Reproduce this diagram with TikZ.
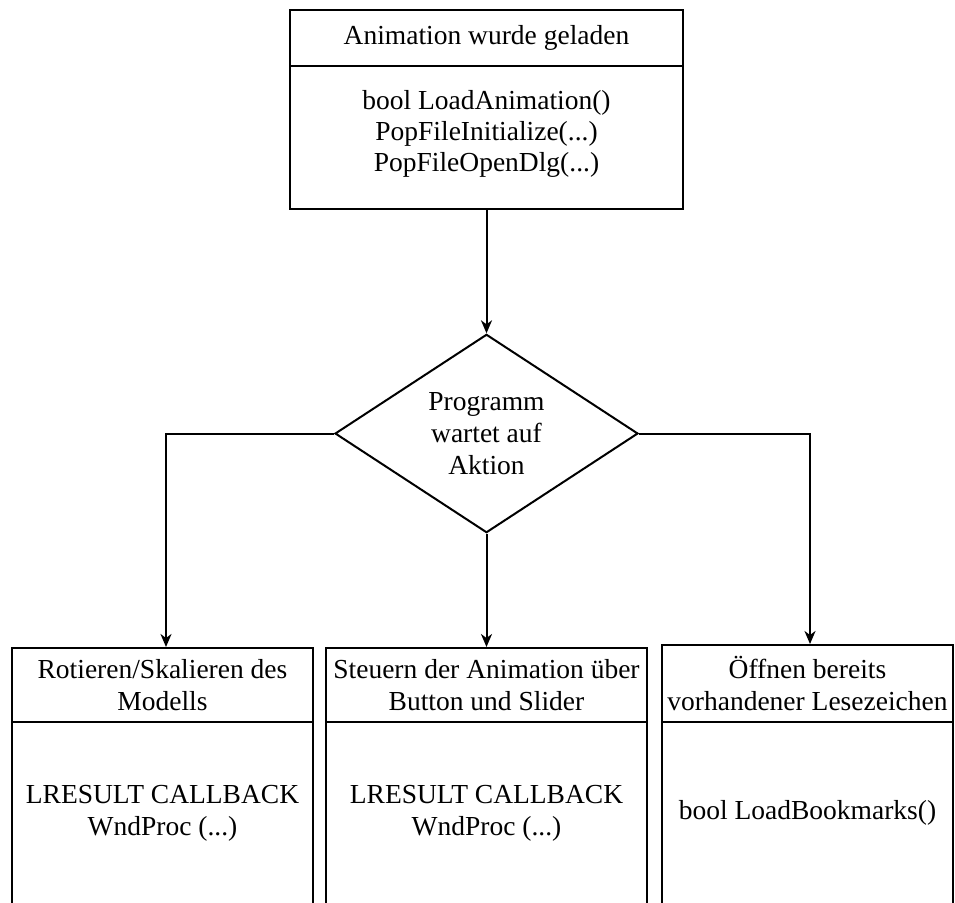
\documentclass[tikz,border=0pt]{standalone}
\usepackage{fontspec}
\setmainfont{Liberation Serif}
\usetikzlibrary{shapes.geometric,arrows.meta}
\begin{document}
\begin{tikzpicture}[x=1pt,y=1pt,
  line width=2pt,
  txt/.style={font=\fontsize{27.5}{32}\selectfont, align=center},
  box/.style={draw, rectangle, txt, inner sep=0pt},
  decision/.style={draw, diamond, txt, inner sep=0pt},
  flow/.style={-{Stealth[length=13pt,width=11pt,inset=4pt]}}]
  \useasboundingbox (0,0) rectangle (955,-902);

  % start block: header and function list
  \node[box, minimum width=393, minimum height=56] (th) at (486.5,-38) {Animation wurde geladen};
  \node[box, minimum width=393, minimum height=143] (tb) at (486.5,-137.5)
    {bool LoadAnimation()\\[-1pt]PopFileInitialize(...)\\[-1pt]PopFileOpenDlg(...)\\[-18pt]};

  % waiting state
  \node[decision, minimum width=303, minimum height=197] (d) at (486.5,-433.5)
    {Programm\\wartet auf\\Aktion};

  % left branch
  \node[box, minimum width=301, minimum height=74] (lh) at (162.5,-685)
    {Rotieren/Skalieren des\\Modells};
  \node[box, minimum width=301, minimum height=182] (lb) at (162.5,-813)
    {LRESULT CALLBACK\\WndProc (...)};

  % middle branch
  \node[box, minimum width=321, minimum height=74] (mh) at (486.5,-685)
    {Steuern der Animation über\\Button und Slider};
  \node[box, minimum width=321, minimum height=182] (mb) at (486.5,-813)
    {LRESULT CALLBACK\\WndProc (...)};

  % right branch
  \node[box, minimum width=291, minimum height=77] (rh) at (807.5,-683.5)
    {Öffnen bereits\\vorhandener Lesezeichen};
  \node[box, minimum width=291, minimum height=182] (rb) at (807.5,-813)
    {bool LoadBookmarks()};

  % connectors
  \coordinate (lc) at (166,-433.5);
  \coordinate (rc) at (810,-433.5);
  \draw[flow] (tb.south) -- (d.north);
  \draw[flow] (d.west) -- (lc) -- (lh.north -| lc);
  \draw[flow] (d.south) -- (mh.north);
  \draw[flow] (d.east) -- (rc) -- (rh.north -| rc);
\end{tikzpicture}
\end{document}
